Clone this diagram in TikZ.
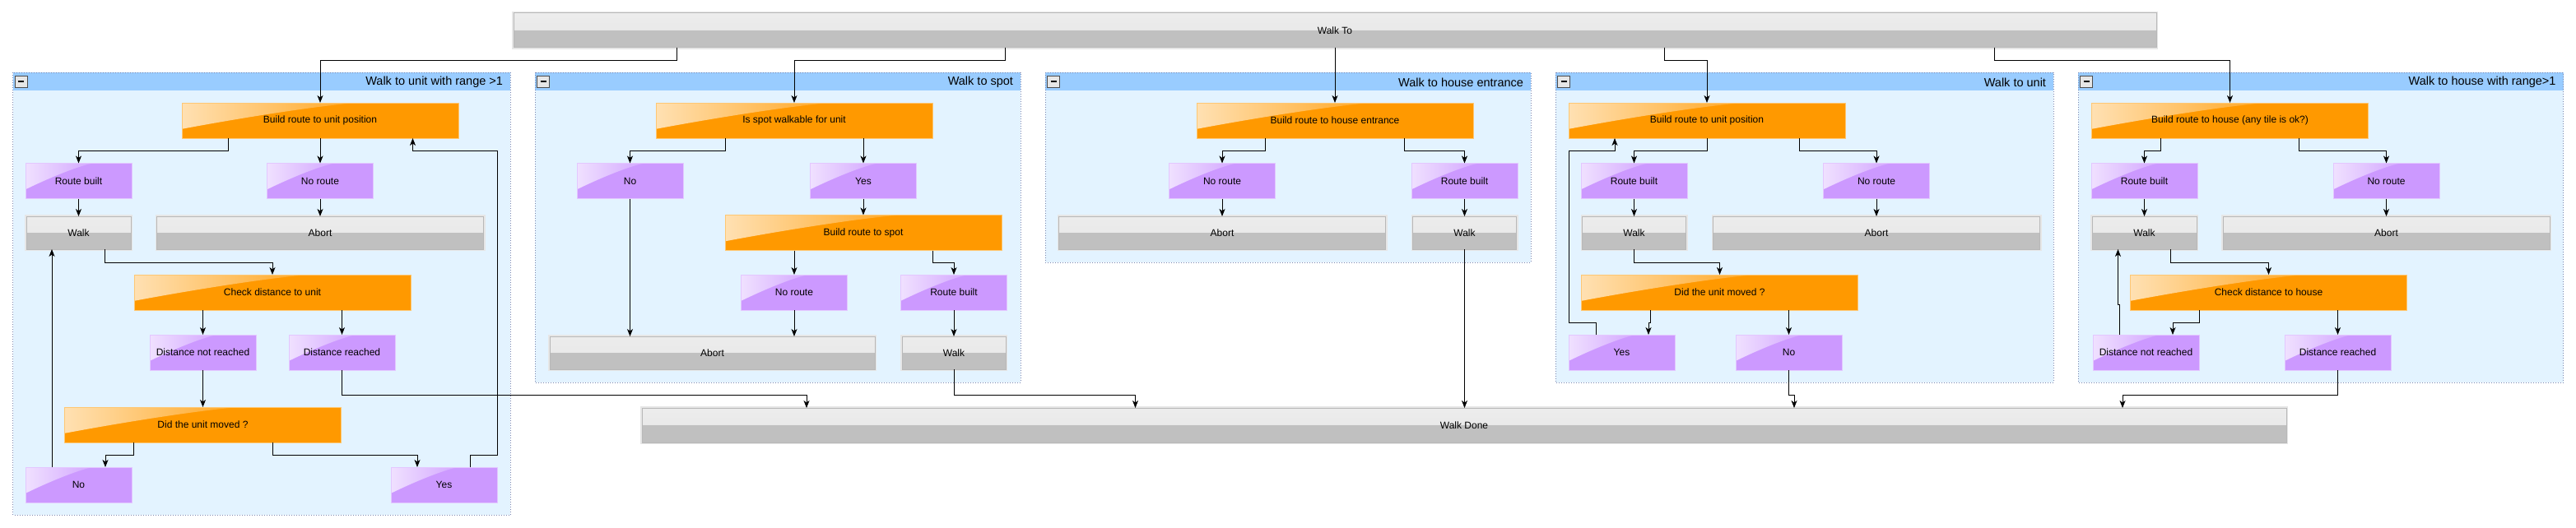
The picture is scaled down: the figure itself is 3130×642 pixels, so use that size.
\documentclass[tikz,border=0pt]{standalone}
\usepackage{fontspec}
\setmainfont{Liberation Sans}
\usepackage{tikz}
\usetikzlibrary{positioning, arrows.meta, calc}
\tikzstyle{arrow} = [line width=0.9pt,-{Stealth[length=9pt,width=7pt,inset=2.5pt]}]

\definecolor{orangebox}{RGB}{255,153,0}
\definecolor{purplebox}{RGB}{204,153,255}
\definecolor{graytop}{RGB}{230,230,230}
\definecolor{graylow}{RGB}{192,192,192}
\definecolor{grayedge}{RGB}{184,184,184}
\definecolor{panelfill}{RGB}{227,243,255}
\definecolor{panelhead}{RGB}{153,204,255}
\definecolor{paneledge}{RGB}{128,136,176}

\tikzset{
  gloss/.style={path picture={
    \coordinate (nw) at (path picture bounding box.north west);
    \coordinate (ne) at (path picture bounding box.north east);
    \coordinate (sw) at (path picture bounding box.south west);
    \coordinate (se) at (path picture bounding box.south east);
    \shade[left color=#1!30!white, right color=#1!88!white]
      (nw) -- ($(nw)!0.65!(ne)$) .. controls ($(nw)!0.58!(ne)$) and ($(nw)!0.3!(se)$) .. ($(nw)!0.74!(sw)$) -- cycle;
  }}
}

% panel: x1, y1, x2, y2, title
\newcommand{\walkpanel}[5]{%
  \fill[panelfill] (#1,#2) rectangle (#3,#4);
  \fill[panelhead] (#1,#2) rectangle (#3,{#2+22});
  \draw[paneledge, line width=1pt, dash pattern=on 1pt off 2pt] (#1,#2) rectangle (#3,#4);
  \node[minusbox] at ({#1+10},{#2+11}) {};
  \draw[line width=2pt] ({#1+6.5},{#2+11}) -- ({#1+13.5},{#2+11});
  \node[paneltitle, anchor=east] at ({#3-8},{#2+12}) {#5};
}

\begin{document}
\begin{tikzpicture}[
        x=1pt, y=-1pt,
        every node/.style={font=\fontsize{12}{14}\selectfont, inner sep=1pt, outer sep=0pt},
        decision/.style={rectangle, minimum width=336pt, minimum height=43pt, fill=orangebox, draw=orangebox!55!white, line width=0.8pt, gloss=orangebox},
        result/.style={rectangle, minimum width=129pt, minimum height=43pt, fill=purplebox, draw=purplebox!55!white, line width=0.8pt, gloss=purplebox},
        task/.style={rectangle, minimum height=40pt, top color=graytop!75!white, bottom color=graytop, draw=grayedge, line width=1pt,
            preaction={draw=graytop, line width=4pt},
            path picture={\fill[graylow] (path picture bounding box.west) rectangle (path picture bounding box.south east);}},
        minusbox/.style={rectangle, minimum width=15pt, minimum height=14pt, fill=graytop, draw=black!70, line width=0.8pt},
        paneltitle/.style={font=\fontsize{14.5}{16}\selectfont}
    ]
    \useasboundingbox (0,0) rectangle (3130,642);

    % Panels
    \walkpanel{15.5}{88}{620}{626}{Walk to unit with range >1}
    \walkpanel{650}{88}{1240}{465}{Walk to spot}
    \walkpanel{1270}{88}{1860}{319}{Walk to house entrance}
    \walkpanel{1890}{88}{2495}{465}{Walk to unit}
    \walkpanel{2525}{88}{3114.5}{465}{Walk to house with range>1}

    % Start and end
    \node[task, minimum width=1996pt, minimum height=42pt] (walkto) at (1622,37) {Walk To};
    \node[task, minimum width=1998pt, minimum height=42pt] (walkdone) at (1779,517) {Walk Done};

    % Walk to unit with range >1
    \node[decision] (p1build) at (389,146.5) {Build route to unit position};
    \node[result] (p1built) at (95.5,220) {Route built};
    \node[result] (p1noroute) at (389,220) {No route};
    \node[task, minimum width=127pt] (p1walk) at (95.5,283) {Walk};
    \node[task, minimum width=397pt] (p1abort) at (389,283) {Abort};
    \node[decision] (p1check) at (331,355.5) {Check distance to unit};
    \node[result] (p1far) at (246.5,428.5) {Distance not reached};
    \node[result] (p1near) at (415.5,428.5) {Distance reached};
    \node[decision] (p1moved) at (246.5,516.5) {Did the unit moved ?};
    \node[result] (p1no) at (95.5,589.5) {No};
    \node[result] (p1yes) at (539.5,589.5) {Yes};

    \draw[arrow] ([xshift=-800pt]walkto.south) -- ++(0,15) -| (p1build.north);
    \draw[arrow] ([xshift=-111.5pt]p1build.south) -- ++(0,15) -| (p1built.north);
    \draw[arrow] (p1build) -- (p1noroute);
    \draw[arrow] (p1built) -- (p1walk);
    \draw[arrow] (p1noroute) -- (p1abort);
    \draw[arrow] ([xshift=31.5pt]p1walk.south) -- ++(0,16) -| (p1check.north);
    \draw[arrow] (p1check.south -| p1far) -- (p1far);
    \draw[arrow] (p1check.south -| p1near) -- (p1near);
    \draw[arrow] (p1far) -- (p1moved);
    \draw[arrow] ([xshift=-84pt]p1moved.south) -- ++(0,15) -| ([xshift=32.5pt]p1no.north);
    \draw[arrow] ([xshift=84.5pt]p1moved.south) -- ++(0,15) -| ([xshift=-32.5pt]p1yes.north);
    \draw[arrow] ([xshift=-32.5pt]p1no.north) -- ([xshift=-32.5pt]p1walk.south);
    \draw[arrow] ([xshift=31.5pt]p1yes.north) -- ++(0,-15) -- ++(33,0) |- ([xshift=112.5pt,yshift=-15pt]p1build.south) -- ([xshift=112.5pt]p1build.south);
    \draw[arrow] (p1near.south) -- ++(0,30) -| ([xshift=-799pt]walkdone.north);

    % Walk to spot
    \node[decision] (p2spot) at (965,146.5) {Is spot walkable for unit};
    \node[result] (p2no) at (765.5,220) {No};
    \node[result] (p2yes) at (1049,220) {Yes};
    \node[decision] (p2build) at (1049,283) {Build route to spot};
    \node[result] (p2noroute) at (965,355.5) {No route};
    \node[result] (p2built) at (1159,355.5) {Route built};
    \node[task, minimum width=395pt] (p2abort) at (865.5,429) {Abort};
    \node[task, minimum width=126pt] (p2walk) at (1159,429) {Walk};

    \draw[arrow] ([xshift=-401pt]walkto.south) -- ++(0,15) -| (p2spot.north);
    \draw[arrow] ([xshift=-83.5pt]p2spot.south) -- ++(0,15) -| (p2no.north);
    \draw[arrow] (p2spot.south -| p2yes) -- (p2yes);
    \draw[arrow] (p2yes) -- (p2build);
    \draw[arrow] (p2build.south -| p2noroute) -- (p2noroute);
    \draw[arrow] ([xshift=84.5pt]p2build.south) -- ++(0,15) -| (p2built.north);
    \draw[arrow] (p2no) -- (p2abort.north -| p2no);
    \draw[arrow] (p2noroute) -- (p2abort.north -| p2noroute);
    \draw[arrow] (p2built) -- (p2walk);
    \draw[arrow] (p2walk.south) -- ++(0,31) -| ([xshift=-399.5pt]walkdone.north);

    % Walk to house entrance
    \node[decision] (p3build) at (1622,146.5) {Build route to house entrance};
    \node[result] (p3noroute) at (1485,220) {No route};
    \node[result] (p3built) at (1779.5,220) {Route built};
    \node[task, minimum width=397pt] (p3abort) at (1485,283) {Abort};
    \node[task, minimum width=126pt] (p3walk) at (1779.5,283) {Walk};

    \draw[arrow] (walkto) -- (p3build);
    \draw[arrow] ([xshift=-84.5pt]p3build.south) -- ++(0,15) -| (p3noroute.north);
    \draw[arrow] ([xshift=84.5pt]p3build.south) -- ++(0,15) -| (p3built.north);
    \draw[arrow] (p3noroute) -- (p3abort);
    \draw[arrow] (p3built) -- (p3walk);
    \draw[arrow] (p3walk) -- (walkdone.north -| p3walk);

    % Walk to unit
    \node[decision] (p4build) at (2074,146.5) {Build route to unit position};
    \node[result] (p4built) at (1985.5,220) {Route built};
    \node[result] (p4noroute) at (2280,220) {No route};
    \node[task, minimum width=126pt] (p4walk) at (1985.5,283) {Walk};
    \node[task, minimum width=397pt] (p4abort) at (2280,283) {Abort};
    \node[decision] (p4moved) at (2089.5,355.5) {Did the unit moved ?};
    \node[result] (p4yes) at (1970.5,428.5) {Yes};
    \node[result] (p4no) at (2173.5,428.5) {No};

    \draw[arrow] ([xshift=400pt]walkto.south) -- ++(0,15) -| (p4build.north);
    \draw[arrow] (p4build.south) -- ++(0,15) -| (p4built.north);
    \draw[arrow] ([xshift=112.5pt]p4build.south) -- ++(0,15) -| (p4noroute.north);
    \draw[arrow] (p4built) -- (p4walk);
    \draw[arrow] (p4noroute) -- (p4abort);
    \draw[arrow] (p4walk.south) -- ++(0,16) -| (p4moved.north);
    \draw[arrow] ([xshift=-84.5pt]p4moved.south) -- ++(0,15) -| ([xshift=32.5pt]p4yes.north);
    \draw[arrow] (p4moved.south -| p4no) -- (p4no);
    \draw[arrow] ([xshift=-31.5pt]p4yes.north) -- ++(0,-15) -- ++(-32.5,0) |- ([xshift=-112pt,yshift=-15pt]p4build.south) -- ([xshift=-112pt]p4build.south);
    \draw[arrow] (p4no.south) -- ++(0,30) -| ([xshift=401pt]walkdone.north);

    % Walk to house with range>1
    \node[decision] (p5build) at (2709.5,146.5) {Build route to house (any tile is ok?)};
    \node[result] (p5built) at (2605.5,220) {Route built};
    \node[result] (p5noroute) at (2899.5,220) {No route};
    \node[task, minimum width=127pt] (p5walk) at (2605.5,283) {Walk};
    \node[task, minimum width=397pt] (p5abort) at (2899.5,283) {Abort};
    \node[decision] (p5check) at (2756.5,355.5) {Check distance to house};
    \node[result] (p5far) at (2607.5,428.5) {Distance not reached};
    \node[result] (p5near) at (2840.5,428.5) {Distance reached};

    \draw[arrow] ([xshift=801pt]walkto.south) -- ++(0,15) -| (p5build.north);
    \draw[arrow] ([xshift=-84pt]p5build.south) -- ++(0,15) -| (p5built.north);
    \draw[arrow] ([xshift=84pt]p5build.south) -- ++(0,15) -| (p5noroute.north);
    \draw[arrow] (p5built) -- (p5walk);
    \draw[arrow] (p5noroute) -- (p5abort);
    \draw[arrow] ([xshift=31.5pt]p5walk.south) -- ++(0,16) -| (p5check.north);
    \draw[arrow] ([xshift=-84pt]p5check.south) -- ++(0,15) -| ([xshift=32.5pt]p5far.north);
    \draw[arrow] (p5check.south -| p5near) -- (p5near);
    \draw[arrow] ([xshift=-32pt]p5far.north) -- ++(0,-37) -| ([xshift=-32pt]p5walk.south);
    \draw[arrow] (p5near.south) -- ++(0,30) -| ([xshift=800pt]walkdone.north);

\end{tikzpicture}
\end{document}
